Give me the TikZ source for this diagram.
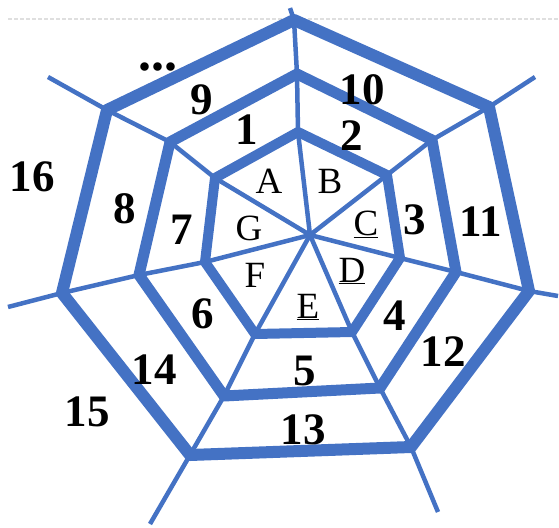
\documentclass[tikz,border=0pt]{standalone}
\usepackage{fontspec}
\setmainfont{Liberation Serif}
\definecolor{webblue}{HTML}{4472C4}
\begin{document}
\begin{tikzpicture}[x=1pt,y=-1pt,
    ring/.style={webblue, line join=round, line cap=round},
    spoke/.style={webblue, line width=4.5pt},
    num/.style={font=\fontsize{45}{45}\selectfont\bfseries, inner sep=0pt},
    lett/.style={font=\fontsize{37}{37}\selectfont, inner sep=0pt}]
    \useasboundingbox (0,0) rectangle (559,527);

    % 顶部虚线
    \draw[gray!25, line width=1.5pt, dash pattern=on 4pt off 2pt] (8,19) -- (559,19);

    % 中心与三层顶点
    \coordinate (O) at (310,235);
    \coordinate (a1) at (298,132); \coordinate (a2) at (387,175);
    \coordinate (a3) at (400,258); \coordinate (a4) at (352,332);
    \coordinate (a5) at (255,334); \coordinate (a6) at (205,262);
    \coordinate (a7) at (215,178);
    \coordinate (b1) at (297,74);  \coordinate (b2) at (432,140);
    \coordinate (b3) at (456,272); \coordinate (b4) at (380,388);
    \coordinate (b5) at (224,396); \coordinate (b6) at (139,275);
    \coordinate (b7) at (170,142);
    \coordinate (c1) at (294,20);  \coordinate (c2) at (489,107);
    \coordinate (c3) at (529,291); \coordinate (c4) at (411,447);
    \coordinate (c5) at (190,455); \coordinate (c6) at (62,293);
    \coordinate (c7) at (107,110);
    % 射线端点
    \coordinate (e1) at (290,8);   \coordinate (e2) at (535,77);
    \coordinate (e3) at (558,296); \coordinate (e4) at (438,512);
    \coordinate (e5) at (150,524); \coordinate (e6) at (8,307);
    \coordinate (e7) at (48,77);

    % 射线
    \draw[spoke] (O) -- (a1) -- (b1) -- (c1) -- (e1);
    \draw[spoke] (O) -- (a2) -- (b2) -- (c2) -- (e2);
    \draw[spoke] (O) -- (a3) -- (b3) -- (c3) -- (e3);
    \draw[spoke] (O) -- (a4) -- (b4) -- (c4) -- (e4);
    \draw[spoke] (O) -- (a5) -- (b5) -- (c5) -- (e5);
    \draw[spoke] (O) -- (a6) -- (b6) -- (c6) -- (e6);
    \draw[spoke] (O) -- (a7) -- (b7) -- (c7) -- (e7);

    % 三层七边形
    \draw[ring, line width=10pt] (a1) -- (a2) -- (a3) -- (a4) -- (a5) -- (a6) -- (a7) -- cycle;
    \draw[ring, line width=11pt] (b1) -- (b2) -- (b3) -- (b4) -- (b5) -- (b6) -- (b7) -- cycle;
    \draw[ring, line width=12pt] (c1) -- (c2) -- (c3) -- (c4) -- (c5) -- (c6) -- (c7) -- cycle;

    % 内层字母
    \node[lett] (lA) at (269,181) {A};
    \node[lett] (lB) at (330,181) {B};
    \node[lett] (lC) at (366,224) {\underline{C}};
    \node[lett] (lD) at (352,271) {\underline{D}};
    \node[lett] (lE) at (308,307) {\underline{E}};
    \node[lett] (lF) at (255,275) {F};
    \node[lett] (lG) at (249,228) {G};

    % 编号
    \node[num] (n1) at (247,130) {1};
    \node[num] (n2) at (352,136) {2};
    \node[num] (n3) at (415,220) {3};
    \node[num] (n4) at (395,316) {4};
    \node[num] (n5) at (305,371) {5};
    \node[num] (n6) at (203,314) {6};
    \node[num] (n7) at (182,230) {7};
    \node[num] (n8) at (125,209) {8};
    \node[num] (n9) at (202,100) {9};
    \node[num] (n10) at (362,90) {10};
    \node[num] (n11) at (481,222) {11};
    \node[num] (n12) at (443,352) {12};
    \node[num] (n13) at (303,430) {13};
    \node[num] (n14) at (154,370) {14};
    \node[num] (n15) at (87,412) {15};
    \node[num] (n16) at (32,177) {16};
    \node[num, font=\fontsize{52}{52}\selectfont\bfseries] (dots) at (158,67) {...};
\end{tikzpicture}
\end{document}
